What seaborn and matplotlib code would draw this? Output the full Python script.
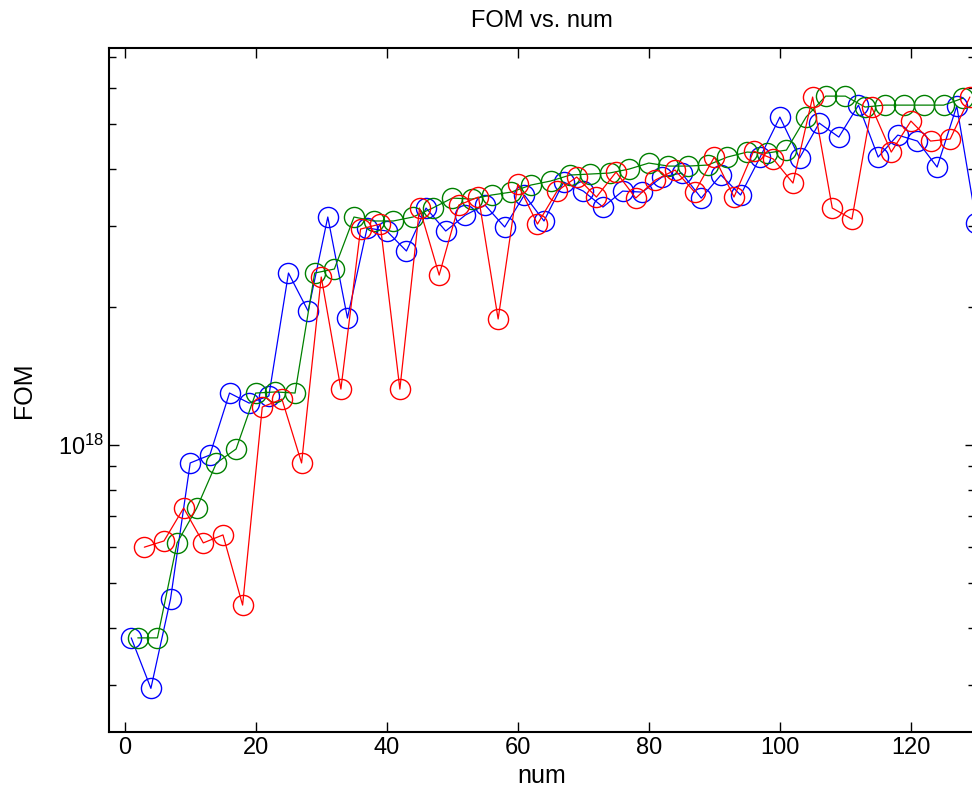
import numpy as np
import pandas as pd
import matplotlib
matplotlib.use("Agg")
import matplotlib.pyplot as plt
import matplotlib.ticker as mticker
import seaborn as sns

# FOM values in units of 1e18
blue_x = list(range(1, 131, 3))
blue_fom = [0.380, 0.295, 0.462, 0.914, 0.951, 1.298, 1.234, 1.279, 2.370, 1.958,
            3.139, 1.891, 2.971, 2.926, 2.647, 3.283, 2.926, 3.170, 3.333, 2.986,
            3.505, 3.077, 3.741, 3.575, 3.300, 3.575, 3.557, 3.836, 3.914, 3.452,
            3.875, 3.505, 4.241, 5.183, 4.220, 5.029, 4.688, 5.503, 4.241, 4.735,
            4.595, 4.033, 5.477, 3.046]

green_x = list(range(2, 129, 3))
green_fom = [0.380, 0.380, 0.612, 0.729, 0.914, 0.980, 1.298, 1.305, 1.298, 2.370,
             2.418, 3.139, 3.077, 3.077, 3.139, 3.283, 3.452, 3.435, 3.505, 3.557,
             3.685, 3.760, 3.875, 3.894, 3.914, 3.993, 4.115, 4.053, 4.053, 4.074,
             4.241, 4.348, 4.326, 4.391, 5.183, 5.757, 5.757, 5.450, 5.503, 5.503,
             5.503, 5.503, 5.702]

red_x = list(range(3, 130, 3))
red_fom = [0.599, 0.618, 0.729, 0.612, 0.637, 0.448, 1.210, 1.259, 0.914, 2.323,
           1.324, 2.955, 3.030, 1.324, 3.283, 2.346, 3.333, 3.470, 1.882, 3.703,
           3.030, 3.575, 3.836, 3.470, 3.933, 3.452, 3.779, 3.973, 3.557, 4.241,
           3.470, 4.370, 4.199, 3.722, 5.731, 3.283, 3.107, 5.450, 4.348, 5.080,
           4.595, 4.642, 5.731]

series = [
    (blue_x, blue_fom, (0, 0, 1)),
    (green_x, green_fom, (0, 0.5, 0)),
    (red_x, red_fom, (1, 0, 0)),
]

sns.set_style("ticks")
plt.rcParams['font.family'] = ['Liberation Sans', 'DejaVu Sans']
plt.rcParams['mathtext.fontset'] = 'custom'
plt.rcParams['mathtext.rm'] = 'Liberation Sans'
plt.rcParams['text.color'] = 'black'
plt.rcParams['axes.labelcolor'] = 'black'
plt.rcParams['xtick.color'] = 'black'
plt.rcParams['ytick.color'] = 'black'
plt.rcParams['axes.edgecolor'] = 'black'

fig = plt.figure(figsize=(9.72, 8.05), dpi=100)
ax = fig.add_axes([0.1121, 0.0907, 0.8911, 0.8497])

for xs, vals, col in series:
    df = pd.DataFrame({"num": xs, "FOM": np.array(vals) * 1e18})
    sns.lineplot(data=df, x="num", y="FOM", ax=ax, color=col, lw=0.9,
                 marker="o", ms=14.5, mfc="none", mec=col, mew=1.0,
                 estimator=None, sort=False)

ax.set_yscale("log")
ax.set_ylim(2.37e17, 7.33e18)
ax.set_xlim(-2.4, 129.8)
ax.set_xticks([0, 20, 40, 60, 80, 100, 120])
ax.yaxis.set_major_locator(mticker.LogLocator(base=10))
ax.yaxis.set_minor_locator(mticker.LogLocator(base=10, subs=np.arange(2, 10)))
ax.yaxis.set_minor_formatter(mticker.NullFormatter())

ax.tick_params(which="both", direction="in", top=True, right=True,
               labelsize=17, width=1.0, colors="black")
ax.tick_params(which="major", length=7)
ax.tick_params(which="minor", length=5)
for sp in ax.spines.values():
    sp.set_linewidth(1.5)
    sp.set_color("black")

ax.set_xlabel("num", fontsize=18, labelpad=4, color="black")
ax.set_ylabel("FOM", fontsize=18, labelpad=16, color="black")
ax.set_title("FOM vs. num", fontsize=17, pad=15, color="black")

fig.savefig("out.png", dpi=100)
